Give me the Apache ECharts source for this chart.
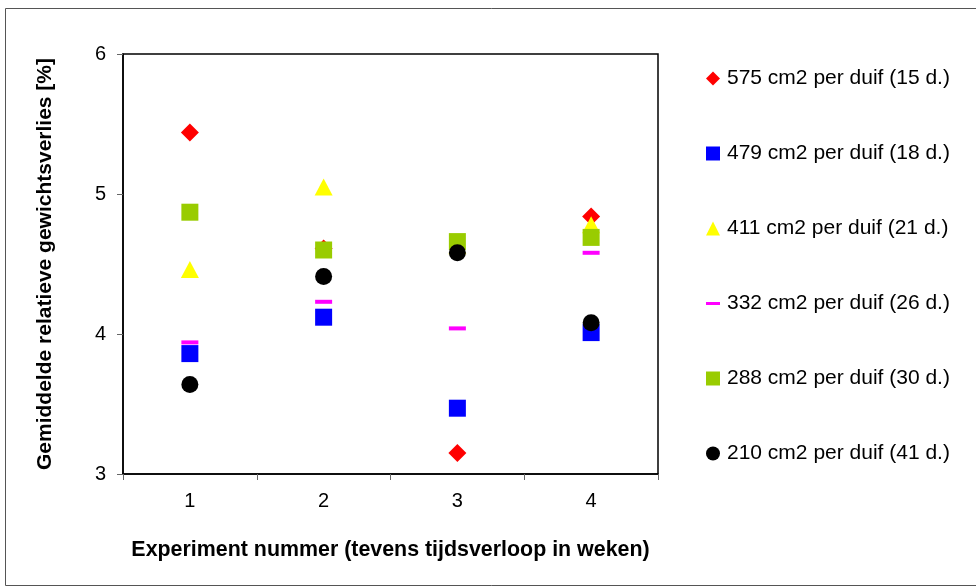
<!DOCTYPE html>
<html><head><meta charset="utf-8">
<script src="https://cdn.jsdelivr.net/npm/echarts@6/dist/echarts.min.js"></script>
<style>html,body{margin:0;padding:0;background:#fff}#c{width:976px;height:586px}</style>
</head><body><div id="c"></div>
<script>
const categories = ['1', '2', '3', '4'];
const seriesNames = [
  '575 cm2 per duif (15 d.)',
  '479 cm2 per duif (18 d.)',
  '411 cm2 per duif (21 d.)',
  '332 cm2 per duif (26 d.)',
  '288 cm2 per duif (30 d.)',
  '210 cm2 per duif (41 d.)'
];
const s575 = [5.44, 4.61, 3.15, 4.84];
const s479 = [3.86, 4.12, 3.47, 4.01];
const s411 = [4.46, 5.05, 4.63, 4.78];
const s332 = [3.94, 4.23, 4.04, 4.58];
const s288 = [4.87, 4.60, 4.66, 4.69];
const s210 = [3.64, 4.41, 4.58, 4.08];
const yTicks = [3, 4, 5, 6];

const values = [s575, s479, s411, s332, s288, s210];
const colors = ['#ff0000', '#0000ff', '#ffff00', '#ff00ff', '#99cc00', '#000000'];
const symbols = ['diamond', 'rect', 'triangle', 'rect', 'rect', 'circle'];
const sizes = [[18, 18], [17, 17], [18, 17], [17, 4], [17, 17], [17, 17]];
const legendIcons = ['diamond', 'rect', 'triangle', 'path://M0,4h14v3h-14z', 'rect', 'circle'];

const chart = echarts.init(document.getElementById('c'));
chart.setOption({
  animation: false,
  backgroundColor: '#fff',
  textStyle: { fontFamily: 'Liberation Sans, Arial, sans-serif' },
  graphic: [{
    type: 'rect', left: 3, top: 6,
    shape: { width: 990, height: 577 },
    style: { fill: 'none', stroke: '#555', lineWidth: 1 }
  }],
  grid: { left: 123, top: 54, width: 535, height: 420, show: true, borderColor: '#000', borderWidth: 1.5, backgroundColor: 'transparent' },
  legend: {
    orient: 'vertical', left: 701, top: 63,
    itemGap: 54, itemWidth: 14, itemHeight: 14,
    textStyle: { fontSize: 21, lineHeight: 21, color: '#000', fontFamily: 'Liberation Sans, Arial, sans-serif', padding: [0, 0, 0, 2] },
    data: seriesNames.map((n, i) => ({ name: n, icon: legendIcons[i] }))
  },
  xAxis: {
    type: 'category', data: categories, boundaryGap: true,
    name: 'Experiment nummer (tevens tijdsverloop in weken)',
    nameLocation: 'middle', nameGap: 66,
    nameTextStyle: { fontSize: 21.4, fontWeight: 'bold', color: '#000' },
    axisLine: { lineStyle: { color: '#000', width: 1.5 } },
    axisTick: { show: true, alignWithLabel: false, length: 6, lineStyle: { color: '#666' } },
    axisLabel: { fontSize: 20, color: '#000', margin: 17 },
    splitLine: { show: false }
  },
  yAxis: {
    type: 'value', min: 3, max: 6, interval: 1,
    name: 'Gemiddelde relatieve gewichtsverlies [%]',
    nameLocation: 'middle', nameGap: 67, nameRotate: 90,
    nameTextStyle: { fontSize: 21, fontWeight: 'bold', color: '#000' },
    axisLine: { show: true, lineStyle: { color: '#000', width: 1.5 } },
    axisTick: { show: true, length: 6, lineStyle: { color: '#666' } },
    axisLabel: { fontSize: 20, color: '#000', margin: 17, formatter: v => yTicks.includes(v) ? String(v) : '' },
    splitLine: { show: false }
  },
  series: seriesNames.map((n, i) => ({
    name: n, type: 'scatter',
    symbol: symbols[i], symbolSize: sizes[i],
    itemStyle: { color: colors[i], opacity: 1 },
    emphasis: { disabled: true },
    data: values[i]
  }))
});
</script></body></html>
